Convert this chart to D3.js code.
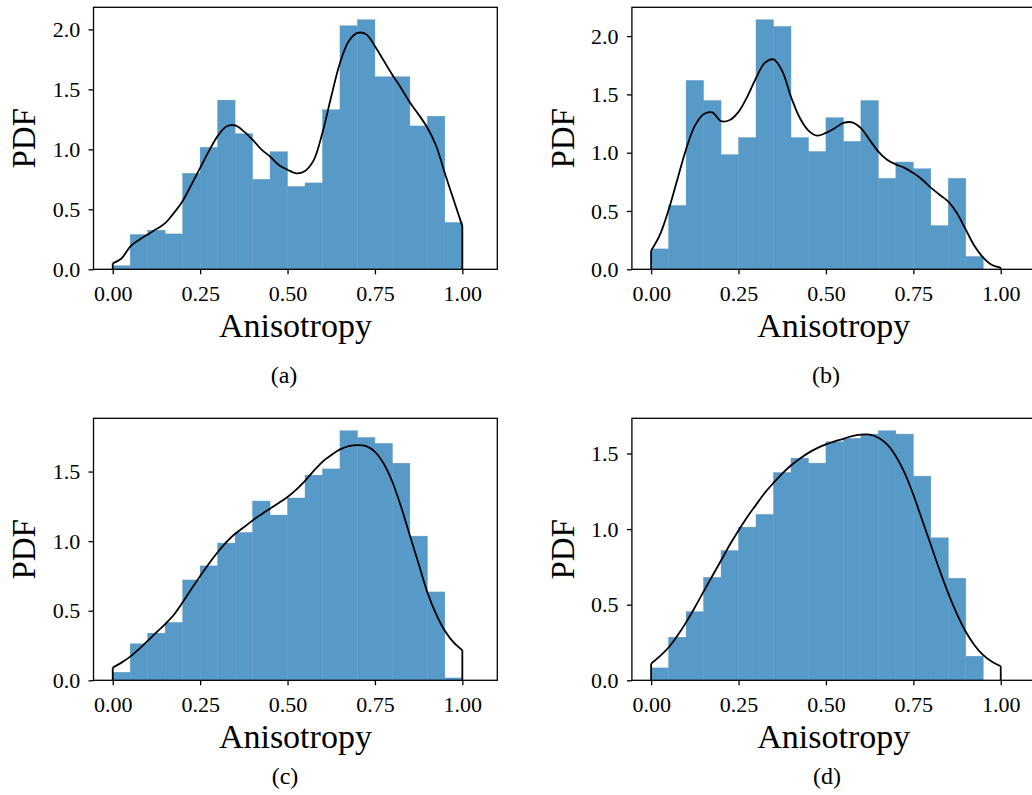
<!DOCTYPE html>
<html>
<head>
<meta charset="utf-8">
<script src="https://cdn.jsdelivr.net/npm/d3@7"></script>
<style>
  html, body { margin: 0; padding: 0; background: #ffffff; }
  svg { display: block; }
  text { font-family: "Liberation Serif", "Times New Roman", serif; fill: #000; }
</style>
</head>
<body>
<svg id="fig" width="1032" height="795"></svg>
<script>
// Histogram bins (left edges) shared by all four distributions
const binStarts = [0.00, 0.05, 0.10, 0.15, 0.20, 0.25, 0.30, 0.35, 0.40, 0.45,
                   0.50, 0.55, 0.60, 0.65, 0.70, 0.75, 0.80, 0.85, 0.90, 0.95];
const binWidth = 0.05;

// Histogram densities per bin
const histA = [0.03, 0.29, 0.326, 0.295, 0.80, 1.017, 1.41, 1.13, 0.75, 0.98,
               0.69, 0.72, 1.33, 2.03, 2.08, 1.605, 1.605, 1.195, 1.276, 0.39];
const histB = [0.175, 0.547, 1.62, 1.447, 0.983, 1.13, 2.14, 2.083, 1.13, 1.01,
               1.30, 1.097, 1.447, 0.78, 0.92, 0.862, 0.375, 0.78, 0.11, 0.0];
const histC = [0.058, 0.262, 0.339, 0.416, 0.721, 0.822, 0.986, 1.0625, 1.288, 1.1875,
               1.31, 1.474, 1.519, 1.793, 1.745, 1.702, 1.56, 1.036, 0.635, 0.017];
const histD = [0.082, 0.285, 0.454, 0.681, 0.858, 1.013, 1.097, 1.374, 1.469, 1.436,
               1.577, 1.60, 1.628, 1.65, 1.628, 1.35, 0.942, 0.675, 0.159, 0.0];

// Kernel density estimate sample positions
const kdeX = [0.000, 0.025, 0.050, 0.075, 0.100, 0.125, 0.150, 0.175, 0.200, 0.225,
              0.250, 0.275, 0.300, 0.325, 0.350, 0.375, 0.400, 0.425, 0.450, 0.475,
              0.500, 0.525, 0.550, 0.575, 0.600, 0.625, 0.650, 0.675, 0.700, 0.725,
              0.750, 0.775, 0.800, 0.825, 0.850, 0.875, 0.900, 0.925, 0.950, 0.975, 1.000];

// Kernel density estimates
const kdeA = [0.05, 0.09, 0.19, 0.245, 0.29, 0.335, 0.385, 0.47, 0.57, 0.705,
              0.845, 0.985, 1.11, 1.19, 1.20, 1.15, 1.08, 1.00, 0.94, 0.87,
              0.83, 0.80, 0.82, 0.91, 1.14, 1.44, 1.72, 1.90, 1.97, 1.96,
              1.86, 1.74, 1.62, 1.51, 1.39, 1.29, 1.18, 1.03, 0.80, 0.58, 0.36];
const kdeB = [0.16, 0.295, 0.51, 0.77, 1.03, 1.23, 1.33, 1.345, 1.27, 1.28,
              1.35, 1.48, 1.64, 1.77, 1.80, 1.70, 1.48, 1.30, 1.19, 1.146,
              1.17, 1.21, 1.255, 1.26, 1.21, 1.11, 1.01, 0.94, 0.90, 0.87,
              0.825, 0.77, 0.70, 0.64, 0.58, 0.48, 0.34, 0.20, 0.10, 0.037, 0.014];
const kdeC = [0.091, 0.127, 0.17, 0.224, 0.284, 0.344, 0.404, 0.471, 0.56, 0.656,
              0.748, 0.837, 0.92, 0.993, 1.053, 1.10, 1.149, 1.192, 1.233, 1.274,
              1.317, 1.37, 1.433, 1.505, 1.57, 1.618, 1.659, 1.683, 1.69, 1.683,
              1.642, 1.558, 1.425, 1.245, 1.04, 0.837, 0.632, 0.476, 0.356, 0.272, 0.216];
const kdeD = [0.11, 0.16, 0.217, 0.294, 0.383, 0.482, 0.586, 0.69, 0.792, 0.896,
              0.991, 1.08, 1.16, 1.239, 1.305, 1.367, 1.42, 1.465, 1.504, 1.535,
              1.56, 1.58, 1.597, 1.615, 1.624, 1.624, 1.604, 1.56, 1.482, 1.372,
              1.228, 1.062, 0.896, 0.73, 0.575, 0.438, 0.321, 0.232, 0.166, 0.122, 0.093];

// Tick labels
const xTicks = [0.00, 0.25, 0.50, 0.75, 1.00];
const yTicksTall = [0.0, 0.5, 1.0, 1.5, 2.0];
const yTicksShort = [0.0, 0.5, 1.0, 1.5];

const xLabel = "Anisotropy";
const yLabel = "PDF";

// Panel placement
const panels = [
  { hist: histA, kde: kdeA, yTicks: yTicksTall,  left: 93.5,  top: 7.3,   caption: "(a)", capX: 284, capY: 383 },
  { hist: histB, kde: kdeB, yTicks: yTicksTall,  left: 631.9, top: 7.3,   caption: "(b)", capX: 826, capY: 383 },
  { hist: histC, kde: kdeC, yTicks: yTicksShort, left: 93.5,  top: 418.3, caption: "(c)", capX: 285, capY: 784 },
  { hist: histD, kde: kdeD, yTicks: yTicksShort, left: 631.9, top: 418.3, caption: "(d)", capX: 827, capY: 784 }
];

const W = 403.8, H = 262;
const barColor = "#5799c7";
const svg = d3.select("#fig");

panels.forEach(p => {
  const g = svg.append("g").attr("transform", `translate(${p.left},${p.top})`);

  const x = d3.scaleLinear().domain([-0.055, 1.1]).range([0, W]);
  const yMax = 1.05 * Math.max(d3.max(p.hist), d3.max(p.kde));
  const y = d3.scaleLinear().domain([0, yMax]).range([H, 0]);

  // histogram bars; a hairline stroke in the fill colour hides seams between neighbours
  g.append("g").selectAll("rect")
    .data(binStarts.map((b, i) => ({ b, v: p.hist[i] })).filter(d => d.v > 0))
    .join("rect")
    .attr("x", d => x(d.b))
    .attr("width", d => x(d.b + binWidth) - x(d.b))
    .attr("y", d => y(d.v))
    .attr("height", d => y(0) - y(d.v))
    .attr("fill", barColor)
    .attr("stroke", barColor)
    .attr("stroke-width", 0.4);

  // density curve, closed to the baseline at both ends
  const pts = kdeX.map((xv, i) => [xv, p.kde[i]]);
  const curve = d3.line().x(d => x(d[0])).y(d => y(d[1])).curve(d3.curveCatmullRom.alpha(0.5));
  const straight = d3.line().x(d => x(d[0])).y(d => y(d[1]));
  const kdeG = g.append("g").attr("fill", "none").attr("stroke", "#000")
    .attr("stroke-width", 1.8).attr("stroke-linejoin", "round");
  kdeG.append("path").attr("d", curve(pts));
  kdeG.append("path").attr("d", straight([[kdeX[0], 0], pts[0]]));
  kdeG.append("path").attr("d", straight([pts[pts.length - 1], [kdeX[kdeX.length - 1], 0]]));

  // axes
  const xAxis = d3.axisBottom(x).tickValues(xTicks).tickFormat(d3.format(".2f"))
    .tickSize(5).tickSizeOuter(0).tickPadding(10.8);
  const yAxis = d3.axisLeft(y).tickValues(p.yTicks).tickFormat(d3.format(".1f"))
    .tickSize(5).tickSizeOuter(0).tickPadding(8.3);

  const gx = g.append("g").attr("transform", `translate(0,${H})`).call(xAxis);
  const gy = g.append("g").call(yAxis);
  [gx, gy].forEach(a => {
    a.select(".domain").remove();
    a.selectAll(".tick line").attr("stroke", "#000").attr("stroke-width", 1.3);
    a.selectAll(".tick text").attr("font-size", 22)
      .attr("font-family", '"Liberation Serif", "Times New Roman", serif').attr("fill", "#000");
  });

  // frame
  g.append("rect").attr("x", 0).attr("y", 0).attr("width", W).attr("height", H)
    .attr("fill", "none").attr("stroke", "#000").attr("stroke-width", 1.3);

  // axis titles
  g.append("text").attr("x", W / 2).attr("y", H + 67.4)
    .attr("text-anchor", "middle").attr("font-size", 34).text(xLabel);
  g.append("text")
    .attr("transform", `translate(${-58.3},${H / 2}) rotate(-90)`)
    .attr("text-anchor", "middle").attr("font-size", 33).text(yLabel);

  // sub-figure caption
  svg.append("text").attr("x", p.capX).attr("y", p.capY)
    .attr("text-anchor", "middle").attr("font-size", 24).text(p.caption);
});
</script>
</body>
</html>
